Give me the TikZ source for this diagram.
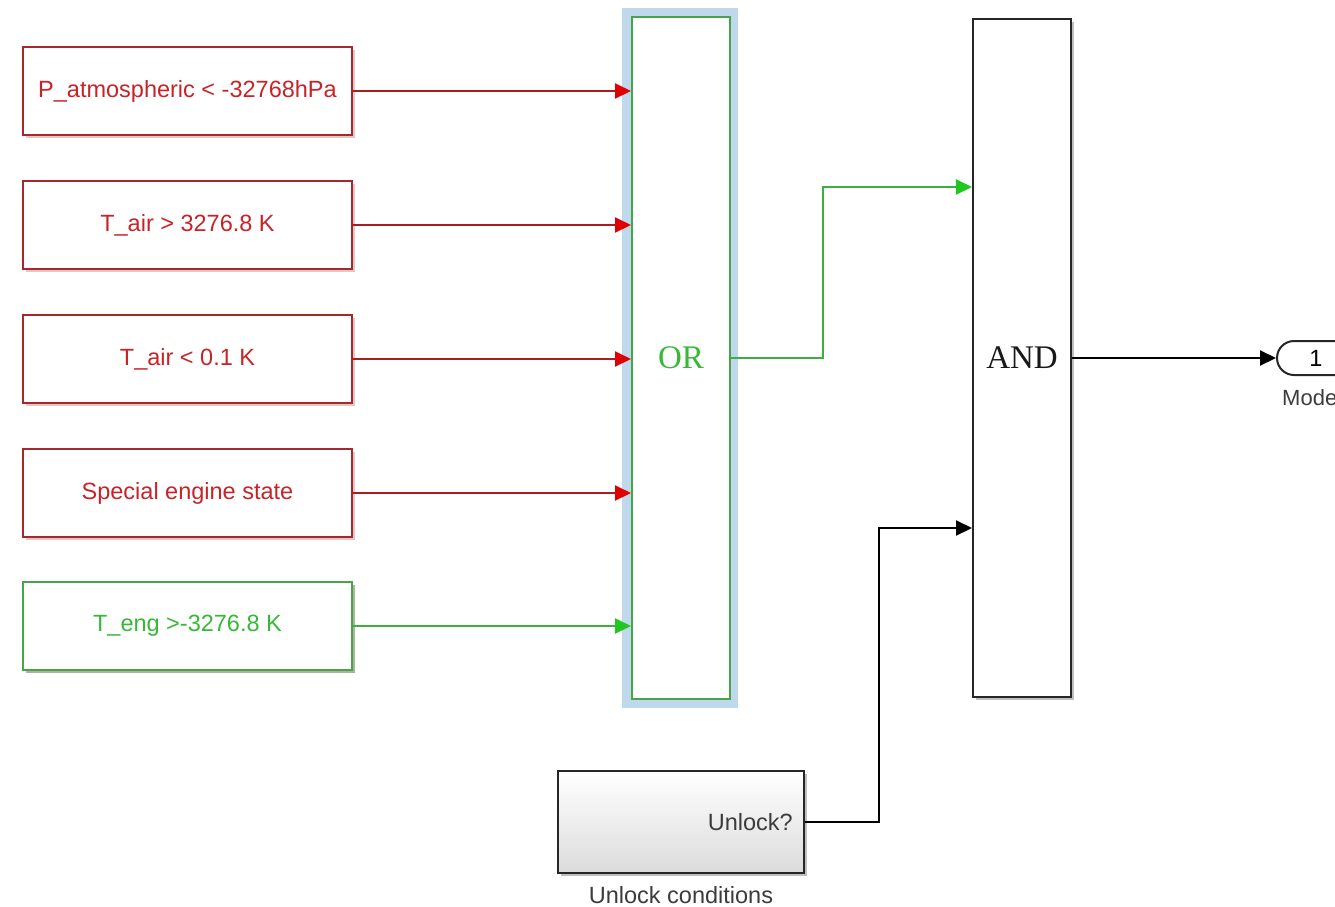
\documentclass[tikz,border=0pt]{standalone}
\usepackage{fontspec}
\setmainfont{Liberation Sans}
\newfontfamily\seriffont{Liberation Serif}
\usetikzlibrary{arrows.meta,shadows,shapes.misc,calc}
\definecolor{rborder}{RGB}{165,40,45}
\definecolor{rtext}{RGB}{200,35,40}
\definecolor{rline}{RGB}{170,30,35}
\definecolor{rhead}{RGB}{225,0,0}
\definecolor{gborder}{RGB}{70,165,70}
\definecolor{gtext}{RGB}{55,185,55}
\definecolor{gline}{RGB}{60,175,60}
\definecolor{ghead}{RGB}{30,200,30}
\definecolor{hl}{RGB}{192,216,236}
\definecolor{lbl}{RGB}{60,60,60}
\tikzset{
  txt/.style={font=\fontsize{23.5}{27}\selectfont},
  redbox/.style={txt, draw=rborder, line width=2pt, fill=white, text=rtext,
    minimum width=329, minimum height=88, inner sep=0pt,
    general shadow={fill=red!50!black, opacity=0.22, shadow xshift=3pt, shadow yshift=-3pt}},
  greenbox/.style={redbox, draw=gborder, text=gtext,
    general shadow={fill=green!40!black, opacity=0.22, shadow xshift=3pt, shadow yshift=-3pt}},
  logicbox/.style={draw, line width=2pt, fill=white, inner sep=0pt,
    font=\seriffont\fontsize{33}{36}\selectfont},
  redarrow/.style={draw=rline, line width=2pt, -{Triangle[length=16pt,width=15pt,color=rhead]}},
  greenarrow/.style={draw=gline, line width=2pt, -{Triangle[length=16pt,width=15pt,color=ghead]}},
  blackarrow/.style={draw=black, line width=2pt, -{Triangle[length=16pt,width=15pt]}},
  subsys/.style={draw=black!85, line width=2pt, top color=white, bottom color=black!14,
    minimum width=246, minimum height=102, inner sep=0pt,
    general shadow={fill=black, opacity=0.25, shadow xshift=3pt, shadow yshift=-3pt}},
  outport/.style={rounded rectangle, draw=black!85, line width=2pt, fill=white,
    minimum width=78, minimum height=34, inner sep=0pt, txt}
}
\begin{document}
\begin{tikzpicture}[x=1pt,y=-1pt]
\clip (0,0) rectangle (1335,906);
\fill[white] (0,0) rectangle (1335,906);

% left condition blocks
\node[redbox] (b1) at (187.5,91) {P\_atmospheric < -32768hPa};
\node[redbox] (b2) at (187.5,225) {T\_air > 3276.8 K};
\node[redbox] (b3) at (187.5,359) {T\_air < 0.1 K};
\node[redbox] (b4) at (187.5,493) {Special engine state};
\node[greenbox] (b5) at (187.5,626) {T\_eng >-3276.8 K};

% OR block with selection highlight
\fill[hl] (622,8) rectangle (738,708);
\node[logicbox, draw=gborder, text=gtext, minimum width=98, minimum height=682] (or) at (681,358) {OR};

% AND block
\node[logicbox, draw=black!85, text=black!90, minimum width=98, minimum height=678,
  general shadow={fill=black, opacity=0.25, shadow xshift=3pt, shadow yshift=-3pt}] (and) at (1022,358) {AND};

% unlock subsystem
\node[subsys] (ul) at (681,822) {};
\node[txt, text=lbl, anchor=east, inner sep=0pt] (ulport) at (793,822) {Unlock?};
\node[txt, text=lbl, inner sep=0pt] (ulname) at (681,895) {Unlock conditions};

% outport
\node[outport] (out) at (1316,358) {1};
\node[txt, text=lbl, anchor=west, inner sep=0pt, font=\fontsize{22}{26}\selectfont] (outname) at (1282,398) {Mode};

% connectors
\coordinate (y187) at (0,187);
\coordinate (y528) at (0,528);
\draw[redarrow] (b1.east) -- (b1.east -| or.west);
\draw[redarrow] (b2.east) -- (b2.east -| or.west);
\draw[redarrow] (b3.east) -- (b3.east -| or.west);
\draw[redarrow] (b4.east) -- (b4.east -| or.west);
\draw[greenarrow] (b5.east) -- (b5.east -| or.west);
\draw[greenarrow] (or.east) -- ++(92,0) |- (and.west |- y187);
\draw[blackarrow] (ul.east) -- ++(74,0) |- (and.west |- y528);
\draw[blackarrow] (and.east) -- (and.east -| out.west);
\end{tikzpicture}
\end{document}
